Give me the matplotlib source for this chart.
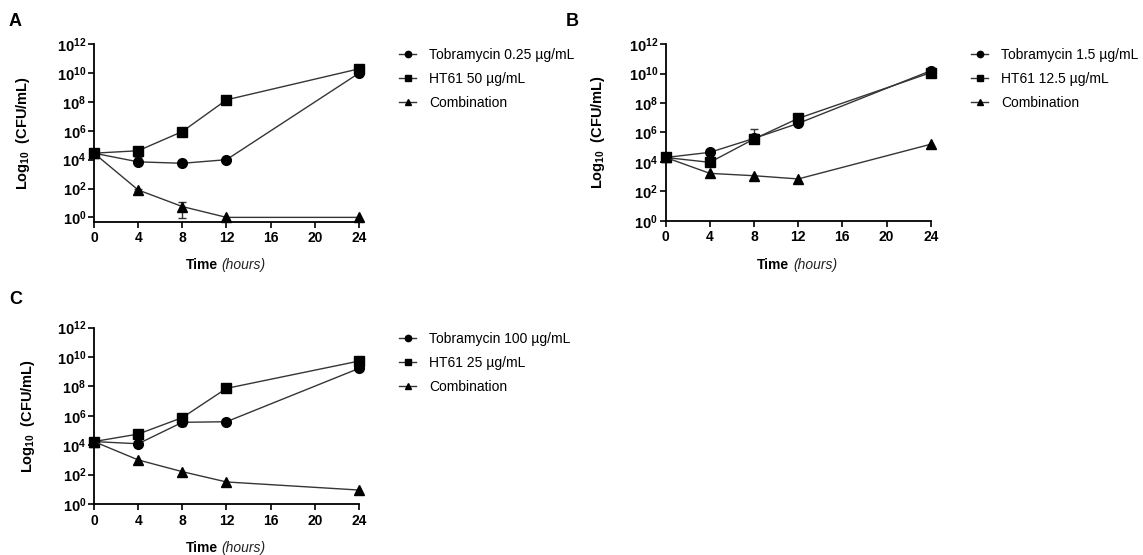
import numpy as np
import matplotlib
matplotlib.use("Agg")
import matplotlib.pyplot as plt

plt.rcParams['font.family'] = ['Liberation Sans', 'DejaVu Sans']
plt.rcParams['mathtext.fontset'] = 'custom'
plt.rcParams['mathtext.rm'] = 'Liberation Sans'
plt.rcParams['mathtext.it'] = 'Liberation Sans:italic'
plt.rcParams['mathtext.bf'] = 'Liberation Sans:bold'

# ---- data (log10 CFU/mL) ----
time = [0, 4, 8, 12, 24]

labels_A = ["Tobramycin 0.25 µg/mL", "HT61 50 µg/mL", "Combination"]
tob_A = [4.45, 3.85, 3.75, 4.0, 10.0]
ht_A = [4.45, 4.62, 5.95, 8.15, 10.3]
comb_A = [4.45, 1.9, 0.75, 0.0, 0.0]
tob_A_lo = [4.45, 3.85, 3.75, 4.0, 10.0]
tob_A_hi = [4.45, 4.2, 3.75, 4.0, 10.0]
comb_A_lo = [4.45, 1.8, -0.05, 0.0, 0.0]
comb_A_hi = [4.45, 2.0, 1.1, 0.0, 0.0]

labels_B = ["Tobramycin 1.5 µg/mL", "HT61 12.5 µg/mL", "Combination"]
tob_B = [4.3, 4.65, 5.6, 6.62, 10.2]
ht_B = [4.3, 3.97, 5.56, 6.96, 10.07]
comb_B = [4.3, 3.22, 3.06, 2.84, 5.2]
tob_B_lo = [4.3, 4.65, 5.6, 6.62, 10.2]
tob_B_hi = [4.3, 4.65, 6.24, 6.62, 10.2]

labels_C = ["Tobramycin 100 µg/mL", "HT61 25 µg/mL", "Combination"]
tob_C = [4.25, 4.1, 5.56, 5.6, 9.23]
ht_C = [4.25, 4.76, 5.88, 7.87, 9.73]
comb_C = [4.25, 3.0, 2.2, 1.5, 0.95]
tob_C_lo = [4.25, 4.1, 5.3, 5.6, 9.23]
tob_C_hi = [4.25, 4.1, 5.56, 5.6, 9.23]

xticks = [0, 4, 8, 12, 16, 20, 24]
yexps = [0, 2, 4, 6, 8, 10, 12]

W, H = 1143, 555
fig = plt.figure(figsize=(W / 100, H / 100), dpi=100)

LC = '#353535'


def px_axes(x0, ytop, x1, ybot):
    return fig.add_axes([x0 / W, 1 - ybot / H, (x1 - x0) / W, (ybot - ytop) / H])


def draw_panel(ax, tob, ht, comb, labels, ylow, errs, leg_xy, letter, letter_xy,
               ylab_x, xlab_cx, xlab_y):
    t = np.array(time)
    series = [(tob, 'o', 7), (ht, 's', 6.5), (comb, '^', 7)]
    handles = []
    for (vals, mk, ms), lab in zip(series, labels):
        v = 10 ** np.array(vals, dtype=float)
        h, = ax.plot(t, v, color=LC, lw=1.0, marker=mk, ms=ms, mfc='black',
                     mec='black', label=lab, clip_on=False, zorder=3)
        handles.append(h)
    for (val, lo, hi) in errs:
        v = 10 ** np.array(val, dtype=float)
        l = 10 ** np.array(lo, dtype=float)
        u = 10 ** np.array(hi, dtype=float)
        mask = (np.array(hi) - np.array(lo)) > 0.01
        ax.errorbar(t[mask], v[mask], yerr=[v[mask] - l[mask], u[mask] - v[mask]],
                    fmt='none', ecolor=LC, elinewidth=1.0, capsize=3, capthick=1.0,
                    clip_on=False, zorder=2)
    ax.set_yscale('log')
    ax.set_ylim(10 ** ylow, 1e12)
    ax.set_xlim(0, 24)
    ax.set_xticks(xticks)
    ax.set_xticklabels([str(x) for x in xticks], fontweight='bold', fontsize=10)
    ax.set_yticks([10.0 ** e for e in yexps])
    ax.set_yticklabels([r'$\mathbf{10^{%d}}$' % e for e in yexps], fontsize=10.5)
    ax.yaxis.set_minor_locator(matplotlib.ticker.NullLocator())
    for s in ['top', 'right']:
        ax.spines[s].set_visible(False)
    for s in ['left', 'bottom']:
        ax.spines[s].set_linewidth(1.3)
        ax.spines[s].set_color('black')
    ax.tick_params(axis='both', which='major', direction='out', length=4,
                   width=1.2, color='black')
    ax.tick_params(axis='x', pad=3)
    ax.tick_params(axis='y', pad=1.5)
    ax.set_ylabel(r'Log$_{\mathbf{10}}$  (CFU/mL)', fontsize=10.5, fontweight='bold')
    ax.yaxis.set_label_coords(ylab_x, 0.5)
    fig.text((xlab_cx - 9) / W, 1 - xlab_y / H, 'Time', fontsize=10,
             fontweight='bold', ha='right', va='center')
    fig.text((xlab_cx - 5) / W, 1 - xlab_y / H, '(hours)', fontsize=10,
             fontstyle='italic', ha='left', va='center', color='#222222')
    fig.legend(handles=handles, labels=labels, loc='upper left',
               bbox_to_anchor=(leg_xy[0] / W, 1 - leg_xy[1] / H),
               bbox_transform=fig.transFigure, frameon=False, fontsize=10,
               handlelength=1.25, handletextpad=0.9, labelspacing=0.72,
               borderpad=0, borderaxespad=0, markerscale=0.65)
    fig.text(letter_xy[0] / W, 1 - letter_xy[1] / H, letter, fontsize=13,
             fontweight='bold', ha='left', va='center')


axA = px_axes(94, 44.3, 359, 221.7)
draw_panel(axA, tob_A, ht_A, comb_A, labels_A, -0.3,
           [(tob_A, tob_A_lo, tob_A_hi), (comb_A, comb_A_lo, comb_A_hi)],
           (399, 48), 'A', (9, 21), -0.235, 226.5, 265)

axB = px_axes(665.7, 44.3, 930.7, 220.7)
draw_panel(axB, tob_B, ht_B, comb_B, labels_B, 0,
           [(tob_B, tob_B_lo, tob_B_hi)],
           (971, 48), 'B', (566, 21), -0.223, 798.2, 265)

axC = px_axes(94, 327.7, 359, 504)
draw_panel(axC, tob_C, ht_C, comb_C, labels_C, 0,
           [(tob_C, tob_C_lo, tob_C_hi)],
           (399, 332), 'C', (9, 300), -0.216, 226.5, 548)

fig.savefig('out.png', dpi=100)
